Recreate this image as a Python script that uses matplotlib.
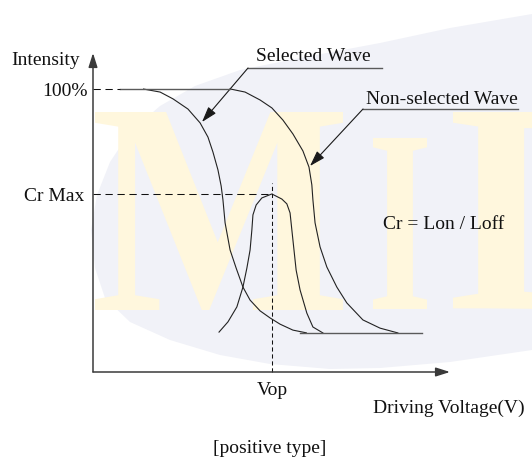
import matplotlib
matplotlib.use("Agg")
import matplotlib.pyplot as plt
from matplotlib.patches import Polygon, PathPatch
from matplotlib.textpath import TextPath
from matplotlib.font_manager import FontProperties
from matplotlib.transforms import Affine2D
from matplotlib.patches import ArrowStyle

# ---------------- data (x: driving voltage, arbitrary units 0..100; y: intensity %) -------------
sel_x = [14.0, 18.8, 22.4, 26.6, 30.0, 32.2, 33.6, 35.0, 35.9, 36.4, 37.0, 38.4, 40.1, 42.0,
         44.0, 46.8, 49.6, 52.4, 56.0, 59.9]
sel_y = [100.0, 98.9, 96.5, 92.9, 88.0, 83.0, 77.7, 71.4, 65.7, 60.8, 52.7, 43.1, 36.7, 30.0,
         25.4, 21.6, 19.1, 16.9, 14.8, 13.8]

peak_x = [35.3, 37.8, 40.3, 42.0, 43.1, 44.0, 44.5, 44.8, 45.7, 47.3, 50.1, 52.9, 54.3, 55.2,
          55.7, 56.3, 56.9, 58.0, 59.9, 61.6, 64.4]
peak_y = [14.1, 17.7, 23.0, 30.0, 36.7, 43.1, 50.2, 55.5, 59.0, 61.5, 62.9, 61.1, 59.4, 56.2,
          50.2, 43.1, 36.0, 29.0, 20.8, 15.9, 13.8]

non_x = [38.4, 42.6, 46.8, 50.1, 53.2, 56.0, 58.8, 60.5, 61.3, 61.6, 62.2, 63.6, 65.5, 68.3,
         71.1, 75.6, 80.4, 85.4]
non_y = [100.0, 98.9, 96.1, 93.3, 89.0, 84.1, 78.1, 72.4, 66.1, 60.8, 52.7, 44.2, 37.1, 30.0,
         24.4, 18.4, 15.5, 13.8]

top_level = 100.0          # 100 %
off_level = 13.8           # Loff level
cr_max = 62.9              # Cr Max level
vop = 50.1                 # operating voltage
top_x = [7.6, 38.4]
off_x = [58.0, 92.2]

x_max, y_max = 100.0, 112.7

W, H = 532, 459
fig = plt.figure(figsize=(W / 100, H / 100), dpi=100)
fig.patch.set_facecolor("white")

# ---------------- background decoration (pixel coordinates) ----------------
bg = fig.add_axes([0, 0, 1, 1], zorder=0)
bg.set_xlim(0, W)
bg.set_ylim(H, 0)
bg.axis("off")

swoosh = [(532, 14), (450, 28), (380, 43), (300, 58), (240, 70), (195, 86), (160, 106),
          (130, 132), (110, 162), (97, 195), (91, 230), (95, 268), (105, 298), (130, 322),
          (170, 340), (220, 355), (270, 364), (330, 369), (380, 368), (450, 362), (532, 350)]
bg.add_patch(Polygon(swoosh, closed=True, facecolor="#F1F2F8", edgecolor="none", zorder=1))

fp_wm = FontProperties(family="Liberation Serif", weight="bold")
cream = "#FFF7DD"


def letter(ch, x0, y_top, y_bot, x1=None):
    tp = TextPath((0, 0), ch, size=100, prop=fp_wm)
    bb = tp.get_extents()
    sy = (y_bot - y_top) / bb.height
    sx = sy if x1 is None else (x1 - x0) / bb.width
    tr = Affine2D().translate(-bb.x0, -bb.y0).scale(sx, -sy).translate(x0, y_bot)
    p = tr.transform_path(tp)
    bg.add_patch(PathPatch(p, facecolor=cream, edgecolor="none", zorder=2))


letter("M", 95, 112, 310, 343)
letter("I", 373, 138, 309, 427)
letter("D", 453, 112, 309)

# ---------------- main diagram axes ----------------
x0px, y0px, x1px, y1px = 93, 372, 450, 53
ax = fig.add_axes([x0px / W, (H - y0px) / H, (x1px - x0px) / W, (y0px - y1px) / H], zorder=2)
ax.set_xlim(0, x_max)
ax.set_ylim(0, y_max)
ax.patch.set_alpha(0)
ax.axis("off")

curve_c = "#222222"
gray_c = "#5a5a5a"

ax.plot(sel_x, sel_y, color=curve_c, lw=0.8, clip_on=False, solid_capstyle="butt")
ax.plot(peak_x, peak_y, color=curve_c, lw=0.8, clip_on=False)
ax.plot(non_x, non_y, color=curve_c, lw=0.8, clip_on=False)
ax.plot(top_x, [top_level, top_level], color=gray_c, lw=1.0, clip_on=False)
ax.plot(off_x, [off_level, off_level], color=gray_c, lw=1.0, clip_on=False)

# dashed guides
ax.plot([0, top_x[0]], [top_level, top_level], color="#111111", lw=0.75,
        ls=(0, (7, 4.5)), clip_on=False)
ax.plot([0, vop], [cr_max, cr_max], color="#111111", lw=0.75, ls=(0, (7, 4.5)), clip_on=False)
ax.plot([vop, vop], [0, cr_max + 3.9], color="#111111", lw=0.75, ls=(0, (4, 2.7)), clip_on=False)

# axes with arrows
head = ArrowStyle("-|>", head_length=0.85, head_width=0.27)
for tip in [(x_max, 0), (0, y_max)]:
    ax.annotate("", xy=tip, xytext=(0, 0),
                arrowprops=dict(arrowstyle=head, mutation_scale=10, color="#3a3a3a",
                                lw=1.1, shrinkA=0, shrinkB=0), annotation_clip=False)

# ---------------- texts and callouts (pixel layout) ----------------
font = dict(family="Liberation Serif", fontsize=14, color="#111111")
bg.text(80, 65, "Intensity", ha="right", va="baseline", zorder=5, **font)
bg.text(88, 96, "100%", ha="right", va="baseline", zorder=5, **font)
bg.text(84, 201, "Cr Max", ha="right", va="baseline", zorder=5, **font)
bg.text(256, 61, "Selected Wave", ha="left", va="baseline", zorder=5, **font)
bg.text(366, 104, "Non-selected Wave", ha="left", va="baseline", zorder=5, **font)
bg.text(383, 229, "Cr = Lon / Loff", ha="left", va="baseline", zorder=5, **font)
bg.text(272, 395, "Vop", ha="center", va="baseline", zorder=5, **font)
bg.text(373, 413, "Driving Voltage(V)", ha="left", va="baseline", zorder=5, **font)
bg.text(270, 453, "[positive type]", ha="center", va="baseline", zorder=5, **font)

# underlines of the labels
bg.plot([248, 382], [68, 68], color=gray_c, lw=1.0, zorder=5)
bg.plot([363, 518], [109, 109], color=gray_c, lw=1.0, zorder=5)

small_head = ArrowStyle("-|>", head_length=0.95, head_width=0.3)
for start, tip in [((248, 68), (202, 122)), ((363, 109), (310, 166))]:
    bg.annotate("", xy=tip, xytext=start,
                arrowprops=dict(arrowstyle=small_head, mutation_scale=10, color="#1a1a1a",
                                lw=0.8, shrinkA=0, shrinkB=0), zorder=6)

fig.savefig("out.png", dpi=100, facecolor="white")
